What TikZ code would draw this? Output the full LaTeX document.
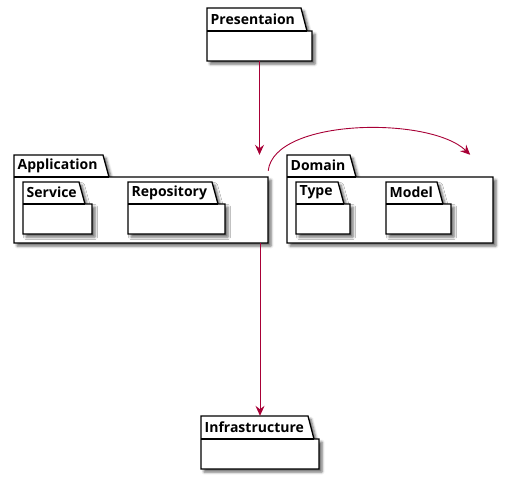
\documentclass[tikz,border=0pt]{standalone}
\usepackage{fontspec}
\setmainfont{Open Sans}
\usetikzlibrary{arrows.meta, positioning, fit, calc, shadows.blur}
\definecolor{umlred}{RGB}{168,0,54}
\tikzset{
  pkgshape/.style={draw=black, line width=1.3pt, fill=white, line join=miter,
    blur shadow={shadow xshift=3pt, shadow yshift=-3pt, shadow blur radius=2.5pt,
                 shadow opacity=60}},
  pkglabel/.style={anchor=west, inner sep=0pt, font=\fontsize{14}{16}\selectfont\bfseries},
  dep/.style={draw=umlred, line width=0.9pt,
    -{Stealth[length=10pt, width=9pt, inset=3.5pt]}}
}

\begin{document}
\begin{tikzpicture}[x=1pt,y=-1pt]
\useasboundingbox (0,0) rectangle (514,480);

% ── Packages: name/label/left/top/tab right/tab bottom/right/bottom ──────────
\foreach \n/\lbl/\l/\t/\tr/\tb/\r/\b in {
    pres/Presentaion/207/8/301/31/312/61,
    app/Application/14/155/103/177/268/243,
    dom/Domain/287/155/350/177/493/243,
    srv/Service/23/182/79/204/92/234,
    repo/Repository/128/182/212/204/225/234,
    type/Type/296/182/338/204/350/234,
    model/Model/386/182/437/204/451/234,
    infra/Infrastructure/201/416/308/439/319/469} {
  \path[pkgshape] (\l,\t) -- (\tr,\t) -- (\tr+6,\tb) -- (\r,\tb)
                  -- (\r,\b) -- (\l,\b) -- cycle;
  \draw[line width=1.3pt] (\l,\tb) -- (\tr+6,\tb);
  \node[pkglabel] (\n-lbl) at (\l+3.5,{(\t+\tb)/2-0.5}) {\lbl};
  \coordinate (\n-nw) at (\l,\t);
  \coordinate (\n-se) at (\r,\b);
  \node[inner sep=0pt, fit=(\n-nw)(\n-se)] (\n) {};
}

% ── Dependencies ─────────────────────────────────────────────────────────────
\draw[dep] (pres.south) -- (pres.south |- app.north);
\draw[dep] (infra.north |- app.south) -- (infra.north);
\coordinate (dom-in) at ($(dom.north east)+(-23,0)$);
\draw[dep] ($(app.north east)+(0,16)$)
  .. controls (274,118) and (430,116) .. (dom-in);

\end{tikzpicture}
\end{document}
